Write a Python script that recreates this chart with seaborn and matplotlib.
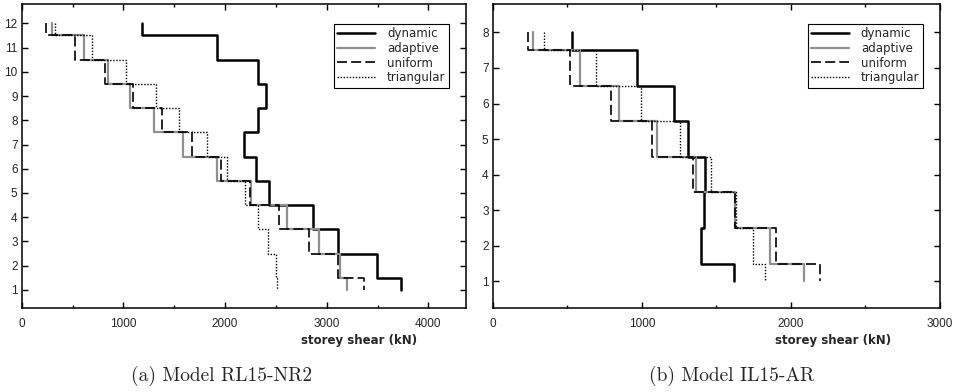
import matplotlib
matplotlib.use("Agg")
import matplotlib.pyplot as plt
import numpy as np
import pandas as pd
import seaborn as sns
from matplotlib.ticker import MultipleLocator

# ---------------- data ----------------
series_names = ["dynamic", "adaptive", "uniform", "triangular"]

storeys_a = list(range(12, 0, -1))
dynamic_a = [1187, 1918, 2321, 2403, 2328, 2190, 2305, 2436, 2869, 3108, 3492, 3731]
adaptive_a = [295, 616, 846, 1066, 1302, 1590, 1918, 2252, 2607, 2925, 3131, 3197]
uniform_a = [239, 525, 820, 1098, 1384, 1672, 1957, 2246, 2534, 2826, 3115, 3367]
triangular_a = [328, 695, 1026, 1321, 1548, 1826, 2016, 2197, 2328, 2426, 2498, 2508]

storeys_b = list(range(8, 0, -1))
dynamic_b = [530, 966, 1213, 1313, 1425, 1414, 1396, 1620]
adaptive_b = [273, 582, 850, 1101, 1365, 1626, 1861, 2085]
uniform_b = [239, 515, 792, 1067, 1342, 1626, 1902, 2197]
triangular_b = [345, 694, 996, 1253, 1463, 1631, 1745, 1823]

xticks_a = [0, 1000, 2000, 3000, 4000]
xticks_b = [0, 1000, 2000, 3000]
xlabel = "storey shear (kN)"
caption_a = "(a) Model RL15-NR2"
caption_b = "(b) Model IL15-AR"

styles = {
    "dynamic": dict(color="black", lw=1.8, ls="-"),
    "adaptive": dict(color="#909090", lw=1.6, ls="-"),
    "uniform": dict(color="black", lw=1.2, ls=(0, (6, 2.5))),
    "triangular": dict(color="black", lw=1.0, ls=(0, (1, 1.2))),
}


def stair_frame(storeys, values):
    """Vertical step profile: each storey value spans storey +/- 0.5 (clipped at ends)."""
    top, bottom = max(storeys), min(storeys)
    ys, xs = [], []
    for s, v in zip(storeys, values):
        y0 = s if s == top else s + 0.5
        y1 = s if s == bottom else s - 0.5
        ys += [y0, y1]
        xs += [v, v]
    return pd.DataFrame({"shear": xs, "level": ys})


sns.set_style("ticks")
plt.rcParams["font.family"] = ["Liberation Sans", "DejaVu Sans"]

fig = plt.figure(figsize=(9.57, 3.92), dpi=100)
ax_a = fig.add_axes([0.0227, 0.214, 0.4642, 0.776])
ax_b = fig.add_axes([0.5149, 0.214, 0.4673, 0.776])

panels = [
    (ax_a, storeys_a, [dynamic_a, adaptive_a, uniform_a, triangular_a], (0, 4370), (0.25, 12.8), xticks_a),
    (ax_b, storeys_b, [dynamic_b, adaptive_b, uniform_b, triangular_b], (0, 3000), (0.25, 8.8), xticks_b),
]

for ax, storeys, vals, xl, yl, xt in panels:
    for name, v in zip(series_names, vals):
        df = stair_frame(storeys, v)
        st = styles[name]
        sns.lineplot(data=df, x="shear", y="level", ax=ax, sort=False, estimator=None,
                     color=st["color"], linewidth=st["lw"], linestyle=st["ls"], label=name)
    ax.set_xlim(*xl)
    ax.set_ylim(*yl)
    ax.set_xticks(xt)
    ax.xaxis.set_minor_locator(MultipleLocator(500))
    ax.set_yticks(sorted(storeys))
    ax.tick_params(which="both", direction="in", top=True, right=True, labelsize=8.5,
                   color="black", width=1.0)
    ax.tick_params(which="major", length=4)
    ax.tick_params(which="minor", length=2)
    ax.tick_params(axis="x", pad=7)
    ax.tick_params(axis="y", pad=3)
    for sp in ax.spines.values():
        sp.set_color("black")
        sp.set_linewidth(1.1)
    ax.set_ylabel("")
    ax.set_xlabel(xlabel, fontsize=8.5, fontweight="bold", family="DejaVu Sans", labelpad=4)
    ax.xaxis.set_label_coords(0.76, -0.085)
    leg = ax.legend(loc="upper right", bbox_to_anchor=(0.975, 0.955), frameon=True, fancybox=False,
                    edgecolor="black", framealpha=1, handlelength=3.2, handletextpad=1.0,
                    labelspacing=0.15, borderpad=0.3, prop={"family": "DejaVu Sans", "size": 8.5})
    leg.get_frame().set_linewidth(0.8)

fig.text(0.231, 0.04, caption_a, fontsize=14, family=["cmr10", "DejaVu Serif"], ha="center", va="center")
fig.text(0.764, 0.04, caption_b, fontsize=14, family=["cmr10", "DejaVu Serif"], ha="center", va="center")

fig.savefig("out.png", dpi=100)
